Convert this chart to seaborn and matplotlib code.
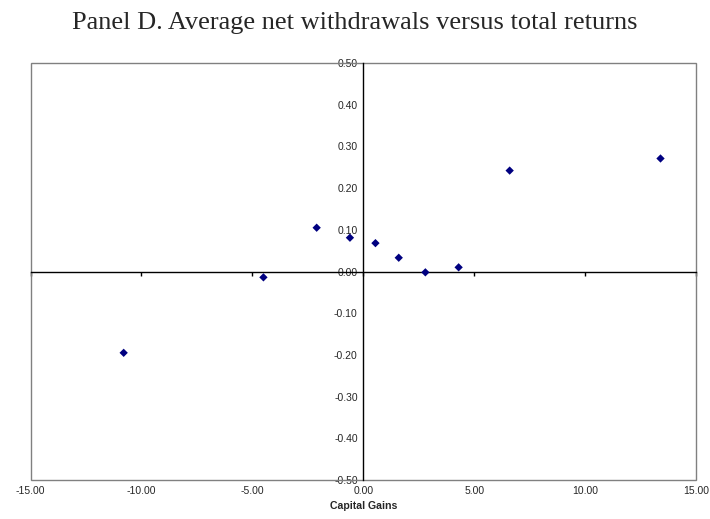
import numpy as np
import pandas as pd
import matplotlib
matplotlib.use("Agg")
import matplotlib.pyplot as plt
import seaborn as sns
from matplotlib.patches import Rectangle
from matplotlib.ticker import FormatStrFormatter

# hodnoty
capital_gains = [-10.8, -4.5, -2.1, -0.6, 0.55, 1.6, 2.8, 4.3, 6.6, 13.4]
net_withdrawals = [-0.195, -0.014, 0.105, 0.081, 0.068, 0.033, -0.002, 0.010, 0.242, 0.271]
x_ticks = [-15, -10, -5, 0, 5, 10, 15]
y_ticks = [-0.5, -0.4, -0.3, -0.2, -0.1, 0.0, 0.1, 0.2, 0.3, 0.4, 0.5]

df = pd.DataFrame({"Capital Gains": capital_gains, "Net withdrawals": net_withdrawals})

sns.set_style("white")
plt.rcParams["font.family"] = ["Liberation Sans", "DejaVu Sans"]

fig = plt.figure(figsize=(7.1, 5.19), dpi=100)
ax = fig.add_axes([30.5 / 710, 1 - 480 / 519, (696 - 30.5) / 710, (480 - 63) / 519])

sns.scatterplot(data=df, x="Capital Gains", y="Net withdrawals", marker="D",
                color="#000080", edgecolor="none", s=18, ax=ax, zorder=5)

ax.set_xlim(-15, 15)
ax.set_ylim(-0.5, 0.5)
ax.set_xticks(x_ticks)
ax.set_yticks(y_ticks)
ax.xaxis.set_major_formatter(FormatStrFormatter("%.2f"))
ax.yaxis.set_major_formatter(FormatStrFormatter("%.2f"))

# osy přes nulu, rámeček šedý
for s in ["bottom", "right"]:
    ax.spines[s].set_visible(False)
ax.spines["left"].set_position(("data", 0))
ax.spines["top"].set_position(("data", 0))
ax.spines["left"].set_color("black")
ax.spines["top"].set_color("black")
ax.spines["left"].set_linewidth(1)
ax.spines["top"].set_linewidth(1)
ax.add_patch(Rectangle((0, 0), 1, 1, transform=ax.transAxes, fill=False,
                       edgecolor="#808080", linewidth=1, zorder=1, clip_on=False))

ax.tick_params(axis="y", direction="out", length=3, width=1, color="black",
               labelsize=7.5, pad=1)
ax.tick_params(axis="x", direction="in", length=3, width=1, color="black",
               bottom=False, top=True, labelbottom=True, labeltop=False,
               labelsize=7.5, pad=4)

ax.set_xlabel("Capital Gains", fontsize=7.6, fontweight="bold", labelpad=4)
ax.set_ylabel("")

fig.text(0.5, 1 - 23 / 519, "Panel D. Average net withdrawals versus total returns",
         ha="center", va="center", fontsize=19, family="Liberation Serif")

fig.savefig("out.png", dpi=100)
